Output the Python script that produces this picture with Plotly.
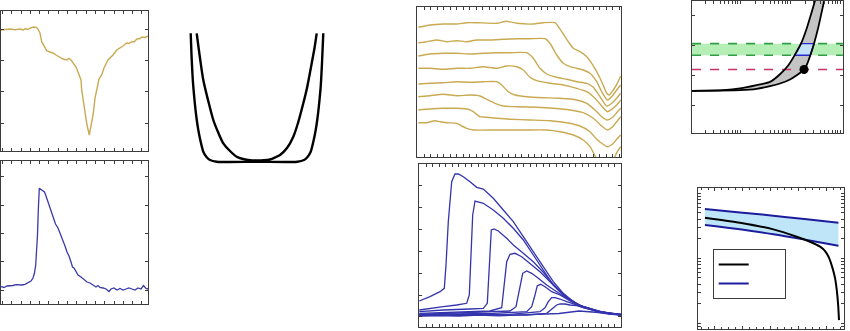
import plotly.graph_objects as go

W, H = 850, 331

# ---------------- data ----------------
# Panel A: single absorbance trace (gold)
a_x = [0, .4, .9, 1.4, 1.9, 2.2, 2.4, 2.7, 3.0, 3.3, 3.5, 3.65, 3.9, 4.07, 4.3, 4.57, 4.9, 5.2, 5.5,
       5.9, 6.2, 6.57, 6.8, 7.0, 7.2, 7.5, 7.7, 8.0, 8.07, 8.2, 8.4, 8.6, 8.83, 9.0, 9.23, 9.4, 9.63,
       9.8, 10.07, 10.3, 10.7, 11.0, 11.2, 11.57, 11.9, 12.2, 12.57, 12.8, 13.1, 13.3, 13.6, 13.9,
       14.1, 14.4, 14.7]
a_y = [12.4, 12.43, 12.5, 12.43, 12.5, 12.4, 12.53, 12.47, 12.63, 12.7, 12.67, 12.55, 12.1, 11.23,
       10.8, 10.33, 10.2, 10.1, 9.9, 9.7, 9.5, 9.4, 9.57, 9.4, 9.1, 8.7, 8.2, 7.4, 6.4, 5.4, 4.1,
       2.9, 1.9, 2.9, 4.07, 5.6, 6.9, 7.5, 7.9, 8.6, 9.4, 9.7, 9.9, 10.4, 10.6, 10.8, 11.1, 11.05,
       11.25, 11.2, 11.5, 11.55, 11.7, 11.65, 11.8]

# Panel B: single transient (blue)
b_x = [0, .3, .6, .9, 1.2, 1.5, 1.8, 2.1, 2.4, 2.7, 3.0, 3.2, 3.35, 3.47, 3.55, 3.65, 3.73, 3.83,
       4.0, 4.2, 4.35, 4.5, 4.7, 4.9, 5.1, 5.3, 5.45, 5.7, 6.0, 6.2, 6.4, 6.6, 6.8, 7.0, 7.15, 7.3,
       7.5, 7.7, 8.0, 8.3, 8.6, 8.9, 9.2, 9.5, 9.7, 9.9, 10.2, 10.5, 10.8, 11.0, 11.3, 11.6, 11.9,
       12.2, 12.5, 12.8, 13.1, 13.4, 13.7, 14.0, 14.25, 14.5, 14.7]
b_y = [1.73, 1.65, 1.8, 1.8, 1.85, 1.93, 1.9, 1.9, 1.97, 2.1, 2.3, 2.6, 3.1, 3.9, 4.9, 6.9, 9.4,
       11.57, 11.45, 11.35, 11.2, 10.8, 10.2, 9.7, 9.2, 8.6, 8.0, 7.6, 6.9, 6.4, 5.8, 5.2, 4.8,
       4.2, 3.7, 3.6, 3.2, 2.9, 2.7, 2.4, 2.2, 2.1, 1.9, 1.7, 1.85, 1.65, 1.6, 1.5, 1.25, 1.5,
       1.6, 1.4, 1.55, 1.4, 1.5, 1.6, 1.5, 1.4, 1.6, 1.5, 1.85, 1.55, 1.5]

# Panel C: two potential wells
well_outer_x = [-6.63, -6.55, -6.45, -6.37, -6.2, -6.05, -5.87, -5.65, -5.37, -5.05, -4.7, -4.03,
                0, 4.03, 4.7, 5.05, 5.37, 5.65, 5.87, 6.05, 6.2, 6.37, 6.5, 6.63]
well_outer_y = [12.97, 10.8, 8.8, 7.63, 5.8, 4.5, 3.3, 2.2, 1.13, 0.6, 0.3, 0.13,
                0.13, 0.13, 0.3, 0.6, 1.13, 2.2, 3.3, 4.5, 5.8, 7.63, 10.0, 12.97]
well_inner_x = [-6.03, -5.7, -5.37, -4.9, -4.37, -3.9, -3.37, -2.7, -2.03, -1.4, -0.7, 0, 0.7,
                1.3, 1.9, 2.3, 3.0, 3.63, 4.1, 4.63, 5.0, 5.47, 5.75, 5.97]
well_inner_y = [12.97, 10.5, 8.3, 6.3, 4.3, 3.1, 1.97, 1.2, 0.63, 0.4, 0.27, 0.25, 0.27, 0.35,
                0.6, 0.8, 1.5, 2.63, 4.0, 5.97, 7.5, 9.97, 11.5, 12.97]

# Panel D: stacked gold traces
d_series = [
    ([0.13, 1.3, 2.63, 3.97, 4.97, 5.97, 7.97, 8.97, 9.97, 11.63, 12.63, 13.8, 14.47, 15.13, 15.63,
      16.3, 16.97, 17.47, 17.97, 18.47, 18.97, 19.23, 19.63, 20.03, 20.37],
     [12.97, 13.2, 13.3, 13.3, 13.43, 13.43, 13.37, 13.57, 13.37, 13.3, 13.43, 13.43, 12.53, 11.53,
      10.87, 10.53, 10.03, 9.37, 8.53, 7.53, 6.37, 6.2, 6.7, 7.37, 8.1]),
    ([0.13, 0.97, 1.97, 2.97, 3.97, 4.97, 5.97, 7.3, 8.63, 9.97, 11.3, 12.8, 13.3, 13.97, 14.63,
      15.3, 15.97, 16.63, 17.3, 17.97, 18.47, 19.03, 19.47, 19.97, 20.37],
     [11.43, 11.53, 11.7, 11.53, 11.63, 11.53, 11.7, 11.7, 11.77, 11.83, 11.83, 11.83, 11.37, 10.2,
      9.37, 9.03, 8.87, 8.7, 8.37, 7.53, 6.53, 5.7, 6.03, 6.7, 7.2]),
    ([0.13, 1.3, 2.63, 3.97, 5.3, 6.63, 7.97, 9.3, 10.97, 11.63, 12.3, 12.97, 13.97, 14.97, 15.97,
      16.97, 17.63, 18.3, 18.97, 19.47, 19.97, 20.37],
     [10.1, 10.3, 10.37, 10.37, 10.3, 10.37, 10.43, 10.43, 10.43, 9.87, 8.87, 8.3, 7.97, 7.77,
      7.53, 7.37, 6.97, 6.03, 5.1, 5.37, 5.87, 6.37]),
    ([0.13, 1.3, 2.63, 3.97, 5.3, 6.63, 7.97, 8.97, 9.97, 10.63, 11.3, 11.97, 13.3, 14.63, 15.97,
      16.97, 17.8, 18.47, 19.03, 19.47, 19.97, 20.37],
     [8.87, 8.87, 8.77, 8.87, 8.87, 9.03, 8.87, 9.1, 9.03, 8.7, 7.97, 7.63, 7.37, 7.2, 6.87, 6.53,
      5.87, 5.1, 4.53, 4.77, 5.2, 5.7]),
    ([0.13, 1.3, 2.63, 3.97, 5.3, 6.63, 7.97, 8.47, 9.13, 9.8, 10.97, 12.63, 14.3, 15.97, 16.97,
      17.8, 18.47, 19.03, 19.57, 19.97, 20.37],
     [7.3, 7.37, 7.43, 7.53, 7.47, 7.53, 7.53, 7.2, 6.53, 6.2, 6.03, 5.93, 5.87, 5.7, 5.37, 4.7,
      4.03, 3.7, 3.97, 4.43, 4.87]),
    ([0.13, 1.3, 2.63, 3.97, 5.3, 6.3, 6.97, 7.8, 8.63, 9.97, 11.97, 13.63, 15.3, 16.63, 17.63,
      18.47, 19.03, 19.57, 19.97, 20.37],
     [6.03, 6.13, 6.27, 6.13, 6.2, 6.1, 5.77, 5.37, 5.1, 5.03, 4.97, 4.87, 4.7, 4.43, 3.87, 3.1,
      2.7, 3.03, 3.53, 4.03]),
    ([0.13, 1.3, 2.63, 3.97, 5.13, 5.63, 6.3, 6.97, 7.97, 9.3, 11.3, 13.3, 14.97, 16.3, 17.3,
      17.97, 18.57, 19.03, 19.57, 19.97, 20.37],
     [4.7, 4.8, 4.87, 4.87, 4.77, 4.53, 4.03, 3.97, 3.87, 3.77, 3.7, 3.63, 3.43, 3.1, 2.53, 1.77,
      1.3, 1.03, 1.3, 1.77, 2.2]),
    ([0.13, 0.97, 1.8, 2.3, 2.97, 3.97, 4.47, 4.97, 5.63, 7.97, 10.63, 12.97, 14.3, 15.63, 16.63,
      17.3, 17.87, 18.47, 19.13, 19.63, 20.03, 20.37],
     [3.43, 3.43, 3.63, 3.53, 3.43, 3.37, 3.1, 2.87, 2.7, 2.7, 2.7, 2.7, 2.53, 2.2, 1.7, 1.03, 0,
      -0.97, -1.13, -0.3, 0.53, 1.03]),
]

# Panel E: transient family (blue)
e_series = [
    ([0.03, 1.1, 2.1, 2.53, 2.7, 2.93, 3.27, 3.6, 3.93, 4.43, 5.1, 5.77, 6.43, 7.43, 8.43, 9.43,
      10.43, 11.43, 12.43, 13.43, 14.43, 15.43, 16.1, 17.1, 18.1, 19.1, 20.17],
     [2.6, 3.03, 3.53, 3.87, 6.2, 10.53, 14.53, 15.3, 15.3, 15.03, 14.53, 13.97, 13.8, 12.87, 11.7,
      10.53, 9.03, 7.53, 6.03, 4.53, 3.37, 2.53, 2.13, 1.87, 1.53, 1.37, 1.27]),
    ([0.03, 1.1, 2.43, 3.77, 4.77, 5.03, 5.2, 5.37, 5.6, 5.93, 6.43, 7.43, 8.43, 9.43, 10.43,
      11.43, 12.43, 13.43, 14.43, 15.43, 16.1, 17.1, 18.1, 19.1, 20.17],
     [1.7, 1.87, 2.03, 2.2, 2.37, 3.2, 7.2, 11.2, 12.6, 12.53, 12.37, 11.7, 10.87, 9.87, 8.7, 7.2,
      5.7, 4.2, 3.2, 2.53, 2.13, 1.8, 1.5, 1.33, 1.23]),
    ([0.03, 2.43, 5.1, 6.43, 6.83, 7.03, 7.23, 7.5, 7.93, 8.77, 9.43, 10.43, 11.43, 12.43, 13.43,
      14.43, 15.43, 16.1, 17.1, 18.1, 19.1, 20.17],
     [1.53, 1.7, 1.8, 1.87, 2.37, 5.53, 9.7, 9.8, 9.6, 8.87, 8.2, 7.37, 6.53, 5.47, 4.27, 3.27,
      2.47, 2.13, 1.77, 1.45, 1.35, 1.2]),
    ([0.03, 4.1, 7.1, 8.27, 8.5, 8.77, 9.1, 9.6, 10.27, 11.1, 12.1, 13.1, 14.1, 15.1, 16.1, 17.1,
      18.1, 19.1, 20.17],
     [1.37, 1.53, 1.6, 1.93, 3.87, 6.53, 7.27, 7.37, 7.03, 6.37, 5.53, 4.53, 3.53, 2.8, 2.13, 1.83,
      1.55, 1.3, 1.25]),
    ([0.03, 5.77, 9.1, 9.7, 10.03, 10.37, 10.77, 11.27, 11.93, 12.77, 13.77, 14.77, 15.77, 16.43,
      17.1, 18.1, 19.1, 20.17],
     [1.27, 1.47, 1.6, 2.03, 3.87, 5.37, 5.6, 5.37, 4.87, 4.2, 3.53, 2.87, 2.37, 2.03, 1.8, 1.5,
      1.4, 1.2]),
    ([0.03, 7.43, 10.77, 11.27, 11.6, 11.83, 12.17, 12.6, 13.27, 14.1, 15.1, 16.1, 17.1, 18.1,
      19.1, 20.17],
     [1.27, 1.37, 1.53, 2.03, 3.2, 4.13, 4.27, 4.03, 3.53, 3.2, 2.6, 2.13, 1.85, 1.52, 1.32, 1.25]),
    ([0.03, 9.1, 12.1, 12.6, 12.93, 13.27, 13.6, 14.1, 14.77, 15.6, 16.43, 17.1, 18.1, 19.1, 20.17],
     [1.2, 1.27, 1.53, 1.93, 2.53, 2.93, 2.93, 2.8, 2.53, 2.27, 1.93, 1.78, 1.5, 1.38, 1.22]),
    ([0.03, 10.77, 12.77, 13.27, 13.77, 14.1, 14.6, 15.1, 15.77, 16.43, 17.1, 18.1, 19.1, 20.17],
     [1.13, 1.2, 1.37, 1.8, 2.2, 2.3, 2.3, 2.2, 2.13, 1.93, 1.75, 1.55, 1.35, 1.3]),
    ([0.03, 2.0, 4.0, 6.0, 8.0, 10.0, 12.0, 14.0, 16.0, 17.0, 18.0, 19.0, 20.17],
     [1.08, 1.15, 1.1, 1.18, 1.12, 1.2, 1.25, 1.35, 1.6, 1.55, 1.45, 1.3, 1.18]),
]

# Panel F: acceptance region (log x)
f_upper_x = [1.08, 4.64, 10, 21.5, 39.8, 63.1, 92.7, 125.9, 166, 215, 271, 331]
f_upper_y = [4.43, 4.5, 4.67, 5.0, 5.33, 6.1, 7.0, 8.07, 9.17, 10.67, 12.33, 13.83]
f_lower_x = [1.08, 10, 21.5, 39.8, 63.1, 100, 136, 190.5, 222, 251, 302, 369, 430, 501]
f_lower_y = [4.43, 4.5, 4.63, 4.9, 5.17, 5.57, 6.0, 6.57, 7.17, 7.9, 9.17, 10.83, 12.33, 13.83]
f_band = [8.0, 9.17]
f_level = 6.57
f_point = (190.5, 6.57)
f_window_x = [124, 166, 302, 255, 124]
f_window_y = [8.0, 9.17, 9.17, 8.0, 8.0]
f_xspan = [1.1, 1140]

# Panel G: model vs bounds (log y)
g_x = [-0.36, 0.9, 2.1, 3.3, 4.44]
g_upper = [57.3, 50.9, 45.2, 39.8, 35.3]
g_lower = [32.5, 27.9, 23.4, 19.1, 15.6]
g_model_x = [-0.36, 0.9, 2.1, 2.94, 3.42, 3.78, 3.96, 4.11, 4.23, 4.32, 4.38, 4.43, 4.46]
g_model_y = [42.2, 35.3, 27.9, 21.5, 18.0, 15.1, 12.9, 10.0, 7.0, 4.92, 3.25, 1.91, 1.12]

# ---------------- styling ----------------
GOLD = "#c9aa52"
BLUE = "#3a3aa8"
BLUE_D = "#3434ae"
FRAME = "#3c3c3c"


def px_dom_x(a, b):
    return [a / W, b / W]


def px_dom_y(top, bottom):
    return [1 - bottom / H, 1 - top / H]


def frame_axis(dom, rng, **kw):
    ax = dict(domain=dom, range=rng, showline=True, linecolor=FRAME, linewidth=1,
              mirror="ticks", ticks="inside", ticklen=3, tickcolor=FRAME, tickwidth=1,
              showticklabels=False, showgrid=False, zeroline=False)
    ax.update(kw)
    return ax


fig = go.Figure()

# Panel A
fig.add_trace(go.Scatter(x=a_x, y=a_y, mode="lines", line=dict(color=GOLD, width=1.4),
                         xaxis="x", yaxis="y", showlegend=False))
# Panel B
fig.add_trace(go.Scatter(x=b_x, y=b_y, mode="lines", line=dict(color=BLUE, width=1.3),
                         xaxis="x2", yaxis="y2", showlegend=False))
# Panel C
for wx, wy in ((well_outer_x, well_outer_y), (well_inner_x, well_inner_y)):
    fig.add_trace(go.Scatter(x=wx, y=wy, mode="lines",
                             line=dict(color="black", width=2.4, shape="spline", smoothing=0.8),
                             xaxis="x3", yaxis="y3", showlegend=False))
# Panel D
for sx, sy in d_series:
    fig.add_trace(go.Scatter(x=sx, y=sy, mode="lines",
                             line=dict(color=GOLD, width=1.4, shape="spline", smoothing=0.5),
                             xaxis="x4", yaxis="y4", showlegend=False))
# Panel E
for sx, sy in e_series:
    fig.add_trace(go.Scatter(x=sx, y=sy, mode="lines", line=dict(color=BLUE_D, width=1.3),
                             xaxis="x5", yaxis="y5", showlegend=False))

# Panel F: green band
fig.add_trace(go.Scatter(x=f_xspan, y=[f_band[0]] * 2, mode="lines",
                         line=dict(color="#2f9e44", width=1.6, dash="dash"),
                         xaxis="x6", yaxis="y6", showlegend=False))
fig.add_trace(go.Scatter(x=f_xspan, y=[f_band[1]] * 2, mode="lines", fill="tonexty",
                         fillcolor="#b6efb6",
                         line=dict(color="#2f9e44", width=1.6, dash="dash"),
                         xaxis="x6", yaxis="y6", showlegend=False))
# grey allowed region
fig.add_trace(go.Scatter(x=f_upper_x + f_lower_x[::-1], y=f_upper_y + f_lower_y[::-1],
                         mode="none", fill="toself", fillcolor="#c4c4c4",
                         xaxis="x6", yaxis="y6", showlegend=False))
fig.add_trace(go.Scatter(x=f_xspan, y=[f_level] * 2, mode="lines",
                         line=dict(color="#c8326a", width=1.6, dash="dash"),
                         xaxis="x6", yaxis="y6", showlegend=False))
fig.add_trace(go.Scatter(x=f_window_x, y=f_window_y, mode="lines", fill="toself",
                         fillcolor="#c3e3f8", line=dict(color="#2a2ad0", width=1.4),
                         xaxis="x6", yaxis="y6", showlegend=False))
for cx, cy in ((f_upper_x, f_upper_y), (f_lower_x, f_lower_y)):
    fig.add_trace(go.Scatter(x=cx, y=cy, mode="lines",
                             line=dict(color="black", width=1.8, shape="spline", smoothing=0.6),
                             xaxis="x6", yaxis="y6", showlegend=False))
fig.add_trace(go.Scatter(x=[f_point[0]], y=[f_point[1]], mode="markers",
                         marker=dict(color="black", size=9),
                         xaxis="x6", yaxis="y6", showlegend=False))

# Panel G
fig.add_trace(go.Scatter(x=g_x, y=g_lower, mode="lines",
                         line=dict(color="#1c1c9c", width=2, shape="spline"),
                         xaxis="x7", yaxis="y7", showlegend=False))
fig.add_trace(go.Scatter(x=g_x, y=g_upper, mode="lines", fill="tonexty", fillcolor="#bfe6f8",
                         line=dict(color="#1c1c9c", width=2, shape="spline"),
                         xaxis="x7", yaxis="y7", showlegend=False))
fig.add_trace(go.Scatter(x=g_model_x, y=g_model_y, mode="lines", name="\u00a0" * 14,
                         line=dict(color="black", width=2, shape="spline", smoothing=0.6),
                         xaxis="x7", yaxis="y7", showlegend=True))
fig.add_trace(go.Scatter(x=[None], y=[None], mode="lines", name="\u00a0" * 14,
                         line=dict(color="#1c1c9c", width=2),
                         xaxis="x7", yaxis="y7", showlegend=True))

layout = dict(
    width=W, height=H, margin=dict(l=0, r=0, t=0, b=0),
    paper_bgcolor="white", plot_bgcolor="white",
    xaxis=frame_axis(px_dom_x(1, 148), [0, 14.7], tick0=1.07, dtick=0.93, anchor="y"),
    yaxis=frame_axis(px_dom_y(11, 151), [0.3, 14.3], tick0=3.1, dtick=3.13, anchor="x"),
    xaxis2=frame_axis(px_dom_x(1, 148), [0, 14.7], tick0=1.07, dtick=0.93, anchor="y2"),
    yaxis2=frame_axis(px_dom_y(161, 304), [0, 14.3], tick0=1.4, dtick=2.83, anchor="x2"),
    xaxis3=dict(domain=px_dom_x(188, 326), range=[-6.9, 6.9], visible=False, anchor="y3"),
    yaxis3=dict(domain=px_dom_y(30, 166), range=[-0.3, 13.3], visible=False, anchor="x3"),
    xaxis4=frame_axis(px_dom_x(417, 621), [0, 20.4], tick0=0.7, dtick=0.65, anchor="y4"),
    yaxis4=frame_axis(px_dom_y(7, 157), [0, 15], ticks="", anchor="x4"),
    xaxis5=frame_axis(px_dom_x(419, 621), [0, 20.2], tick0=0.7, dtick=0.65, anchor="y5"),
    yaxis5=frame_axis(px_dom_y(164, 327), [0, 16.3], tick0=3.2, dtick=2.19, anchor="x5"),
    xaxis6=frame_axis(px_dom_x(692, 843), [0.04, 3.06], type="log", dtick="D1", anchor="y6"),
    yaxis6=frame_axis(px_dom_y(0.5, 133), [0.2, 13.5], tick0=0, dtick=3, anchor="x6"),
    xaxis7=frame_axis(px_dom_x(698, 844), [-0.61, 4.64], tick0=0, dtick=1,
                      minor=dict(ticks="inside", ticklen=2, dtick=0.25, tickcolor=FRAME),
                      anchor="y7"),
    yaxis7=frame_axis(px_dom_y(188, 329), [-0.088, 2.082], type="log", dtick="D1", anchor="x7"),
    legend=dict(x=712.7 / W, y=1 - 249 / H, xanchor="left", yanchor="top",
                bgcolor="white", bordercolor=FRAME, borderwidth=1, traceorder="normal",
                font=dict(size=7), itemwidth=30, tracegroupgap=0),
)
fig.update_layout(**layout)

fig.write_html("out.html")
